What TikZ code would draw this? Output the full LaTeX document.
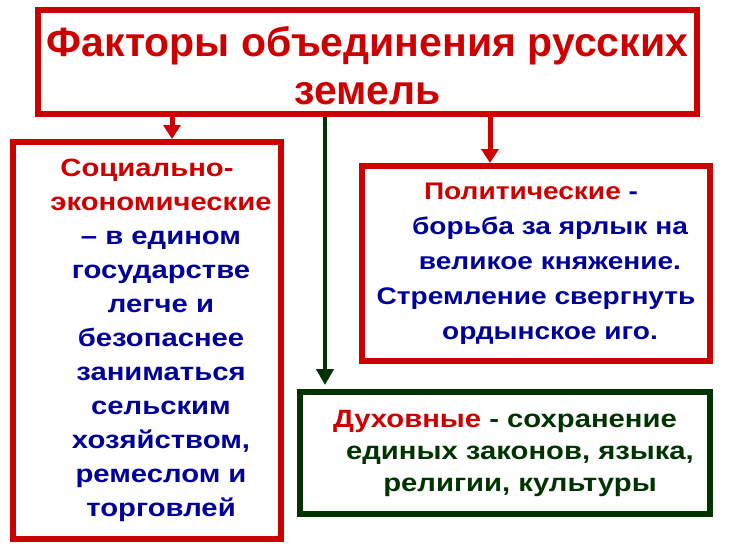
\documentclass[tikz,border=0pt]{standalone}
\usepackage{fontspec}
\setmainfont{Liberation Sans}
\newfontfamily\widefont[FakeStretch=1.17]{Liberation Sans}
\usetikzlibrary{arrows.meta}
\definecolor{krasny}{RGB}{204,0,0}
\definecolor{sini}{RGB}{0,0,153}
\definecolor{zeleny}{RGB}{0,51,0}

\begin{document}
\begin{tikzpicture}[
  x=1pt, y=-1pt,
  box/.style={rectangle, draw=krasny, line width=6pt, inner sep=0pt, align=center},
  arrow/.style={-{Triangle[width=17pt,length=14pt]}, line width=5pt, krasny}
]
  \useasboundingbox (0,0) rectangle (736,552);

  % Заголовок
  \node[box, minimum width=659pt, minimum height=104pt, text=krasny, font=\bfseries\fontsize{41}{48}\selectfont] (title) at (367.5,62) {\rule{0pt}{37pt}Факторы объединения русских\\земель};

  % Социально-экономические
  \node[box, minimum width=268pt, minimum height=397pt, text=sini, font=\widefont\bfseries\fontsize{25}{34}\selectfont] (social) at (147,340.5)
    {\textcolor{krasny}{Социально-}\\\hspace*{28pt}\textcolor{krasny}{экономические}\\\hspace*{28pt}– в едином\\\hspace*{28pt}государстве\\\hspace*{28pt}легче и\\\hspace*{28pt}безопаснее\\\hspace*{28pt}заниматься\\\hspace*{28pt}сельским\\\hspace*{28pt}хозяйством,\\\hspace*{28pt}ремеслом и\\\hspace*{28pt}торговлей};

  % Политические
  \node[box, minimum width=348pt, minimum height=195pt, text=sini, font=\widefont\bfseries\fontsize{24}{35}\selectfont] (polit) at (536,263.5)
    {\textcolor{krasny}{Политические} -\hspace*{10pt}\\\hspace*{28pt}борьба за ярлык на\\\hspace*{28pt}великое княжение.\\Стремление свергнуть\\\hspace*{28pt}ордынское иго.};

  % Духовные
  \node[box, draw=zeleny, minimum width=410pt, minimum height=122pt, text=zeleny, font=\widefont\bfseries\fontsize{25}{32}\selectfont] (dukh) at (505,453)
    {\textcolor{krasny}{Духовные} - сохранение\\\hspace*{30pt}единых законов, языка,\\\hspace*{30pt}религии, культуры};

  % Стрелки
  \draw[arrow] ([xshift=25pt]social.north |- title.south) -- ([xshift=25pt]social.north);
  \draw[arrow] ([xshift=-46pt]polit.north |- title.south) -- ([xshift=-46pt]polit.north);
  \draw[arrow, zeleny, line width=4pt, -{Triangle[width=17pt,length=16pt]}] ([xshift=28pt]dukh.north west |- title.south) -- ([xshift=28pt,yshift=4pt]dukh.north west);
\end{tikzpicture}
\end{document}
